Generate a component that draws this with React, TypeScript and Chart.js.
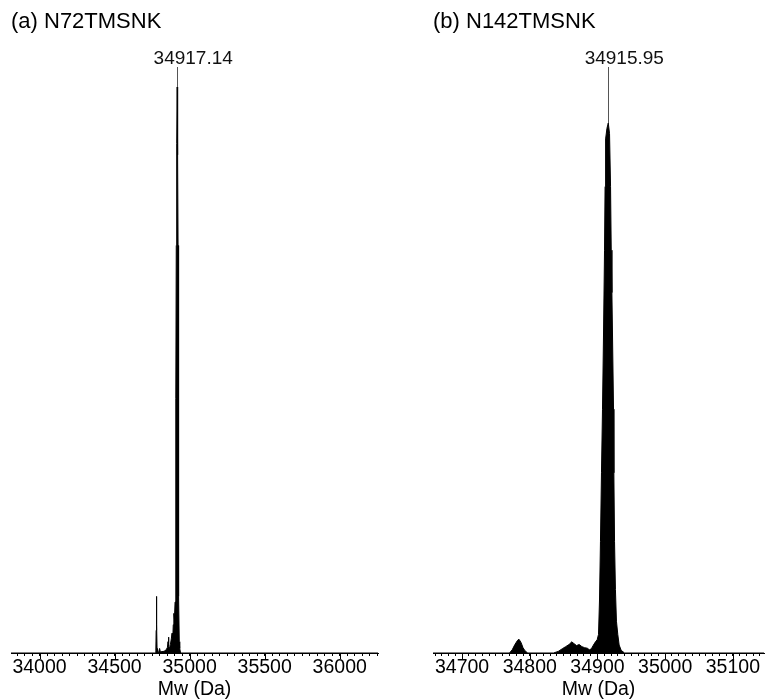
import React, { useEffect, useRef } from 'react';
import { Chart, registerables } from 'chart.js';

Chart.register(...registerables);

const FONT = "'Liberation Sans', Arial, Helvetica, sans-serif";
const X_TITLE = 'Mw (Da)';

// ---- Panel (a) ----
const TITLE_A = '(a) N72TMSNK';
const A_RANGE = [33810, 36255];
const A_MAJOR = [34000, 34500, 35000, 35500, 36000];
const A_MINOR_STEP = 50;
const A_YMAX = 103;
const A_PEAK = 34917.14;
const A_PEAK_LABEL = '34917.14';
const A_MASS = [
  33810, 34770, 34775, 34777, 34779, 34781, 34783, 34786, 34795, 34800, 34805, 34830, 34845,
  34852, 34856, 34859, 34862, 34866, 34872, 34878, 34883, 34887, 34891, 34895, 34899, 34903,
  34907, 34909, 34911, 34914, 34917.14, 34920, 34923, 34925, 34928, 34931, 34934, 34940, 36255,
];
const A_INT = [
  0, 0, 0.5, 4, 10, 5, 0.8, 0, 0.3, 0.8, 0.2, 0.3, 0.6,
  1.0, 2.0, 2.8, 1.2, 0.8, 1.5, 2.5, 3.5, 2.0, 5, 7, 6, 9,
  20, 45, 72, 90, 100, 88, 72, 45, 10, 2, 0.8, 0, 0,
];

// ---- Panel (b) ----
const TITLE_B = '(b) N142TMSNK';
const B_RANGE = [34657, 35146];
const B_MAJOR = [34700, 34800, 34900, 35000, 35100];
const B_MINOR_STEP = 10;
const B_YMAX = 110;
const B_PEAK = 34915.95;
const B_PEAK_LABEL = '34915.95';
const B_MASS = [
  34657, 34770, 34774, 34778, 34782, 34784, 34787, 34790, 34793, 34797, 34835, 34842, 34848,
  34853, 34858, 34862, 34865, 34869, 34873, 34877, 34881, 34885, 34888, 34891, 34894, 34897,
  34899.5, 34901.5, 34903, 34904.4, 34905.9, 34907.4, 34908.9, 34910.4, 34911.2, 34912, 34914,
  34915.95, 34917.8, 34919.3, 34920.3, 34921.3, 34922.2, 34923.7, 34924.2, 34925.2, 34926.5,
  34928, 34930, 34932, 34935, 34940, 35146,
];
const B_INT = [
  0, 0, 0.6, 1.6, 2.4, 2.6, 2.0, 1.0, 0.4, 0, 0, 0.3, 0.8,
  1.2, 1.6, 2.1, 1.8, 1.4, 1.6, 1.2, 1.0, 0.9, 0.6, 0.8, 1.5, 2.1,
  2.5, 3.5, 10, 21, 34, 46, 60, 76, 88, 97, 99,
  100, 98, 88, 76, 68, 60, 46, 34, 21, 12,
  6, 3.5, 1.5, 0.5, 0, 0,
];

type PanelCfg = {
  title: string;
  range: number[];
  major: number[];
  minorStep: number;
  ymax: number;
  peak: number;
  peakLabel: string;
  mass: number[];
  inten: number[];
  padLeft: number;
  padRight: number;
};

const PANELS: PanelCfg[] = [
  {
    title: TITLE_A, range: A_RANGE, major: A_MAJOR, minorStep: A_MINOR_STEP, ymax: A_YMAX,
    peak: A_PEAK, peakLabel: A_PEAK_LABEL, mass: A_MASS, inten: A_INT, padLeft: 11, padRight: 6,
  },
  {
    title: TITLE_B, range: B_RANGE, major: B_MAJOR, minorStep: B_MINOR_STEP, ymax: B_YMAX,
    peak: B_PEAK, peakLabel: B_PEAK_LABEL, mass: B_MASS, inten: B_INT, padLeft: 47, padRight: 4,
  },
];

function peakIntensity(cfg: PanelCfg) {
  const i = cfg.mass.indexOf(cfg.peak);
  return i >= 0 ? cfg.inten[i] : Math.max(...cfg.inten);
}

function Panel({ cfg, left, width }: { cfg: PanelCfg; left: number; width: number }) {
  const ref = useRef<HTMLCanvasElement | null>(null);
  useEffect(() => {
    if (!ref.current) return;
    const extrasPlugin = {
      id: 'extras',
      afterDatasetsDraw(chart: any) {
        const ctx = chart.ctx;
        const xs = chart.scales.x;
        const ys = chart.scales.y;
        const area = chart.chartArea;
        ctx.save();
        ctx.strokeStyle = '#000';
        ctx.lineWidth = 1;
        cfg.major.forEach((v) => {
          const px = Math.round(xs.getPixelForValue(v)) + 0.5;
          ctx.beginPath();
          ctx.moveTo(px, area.bottom);
          ctx.lineTo(px, area.bottom + 6);
          ctx.stroke();
        });
        const px = xs.getPixelForValue(cfg.peak);
        const py = ys.getPixelForValue(peakIntensity(cfg));
        ctx.strokeStyle = '#555';
        ctx.beginPath();
        ctx.moveTo(Math.round(px) + 0.5, area.top - 3);
        ctx.lineTo(Math.round(px) + 0.5, py);
        ctx.stroke();
        ctx.fillStyle = '#111';
        ctx.font = `19px ${FONT}`;
        ctx.textAlign = 'center';
        ctx.textBaseline = 'middle';
        ctx.fillText(cfg.peakLabel, px + 16, area.top - 11);
        ctx.restore();
      },
    };
    const chart = new Chart(ref.current, {
      type: 'line',
      data: {
        datasets: [
          {
            data: cfg.mass.map((m, i) => ({ x: m, y: cfg.inten[i] })),
            borderColor: '#000',
            backgroundColor: '#000',
            borderWidth: 1,
            pointRadius: 0,
            tension: 0,
            fill: 'origin',
          },
        ],
      },
      options: {
        animation: false,
        responsive: false,
        maintainAspectRatio: false,
        layout: { padding: { left: cfg.padLeft, right: cfg.padRight, top: 0, bottom: 0 } },
        plugins: {
          legend: { display: false },
          tooltip: { enabled: false },
          title: {
            display: true,
            text: cfg.title,
            align: 'start',
            color: '#000',
            font: { family: FONT, size: 22, weight: 'normal', lineHeight: 1.2 },
            padding: { top: 8.5, bottom: 35.1 },
          },
        },
        scales: {
          x: {
            type: 'linear',
            min: cfg.range[0],
            max: cfg.range[1],
            afterBuildTicks: (axis: any) => {
              const ticks: any[] = [];
              const start = Math.ceil(cfg.range[0] / cfg.minorStep) * cfg.minorStep;
              for (let v = start; v <= cfg.range[1]; v += cfg.minorStep) ticks.push({ value: v });
              axis.ticks = ticks;
            },
            afterFit: (scale: any) => {
              scale.height = 46;
            },
            ticks: {
              autoSkip: false,
              maxRotation: 0,
              minRotation: 0,
              padding: 0,
              color: '#000',
              font: { family: FONT, size: 19.5, lineHeight: 1.2 },
              callback: (v: any) => (cfg.major.includes(Number(v)) ? String(v) : ''),
            },
            grid: {
              display: true,
              drawOnChartArea: false,
              drawTicks: true,
              tickLength: 3,
              color: '#000',
              tickColor: '#000',
            },
            border: { display: true, color: '#000', width: 1 },
            title: {
              display: true,
              text: X_TITLE,
              color: '#000',
              font: { family: FONT, size: 19.5, lineHeight: 1 },
              padding: { top: 0, bottom: 0 },
            },
          },
          y: {
            display: false,
            min: 0,
            max: cfg.ymax,
          },
        },
      },
      plugins: [extrasPlugin],
    } as any);
    return () => chart.destroy();
  }, [cfg]);
  return (
    <canvas
      ref={ref}
      width={width}
      height={699}
      style={{ position: 'absolute', left, top: 0, width, height: 699 }}
    />
  );
}

export default function App() {
  return (
    <div style={{ position: 'fixed', left: 0, top: 0, width: 768, height: 699, background: '#fff' }}>
      <Panel cfg={PANELS[0]} left={0} width={384} />
      <Panel cfg={PANELS[1]} left={386} width={382} />
    </div>
  );
}
